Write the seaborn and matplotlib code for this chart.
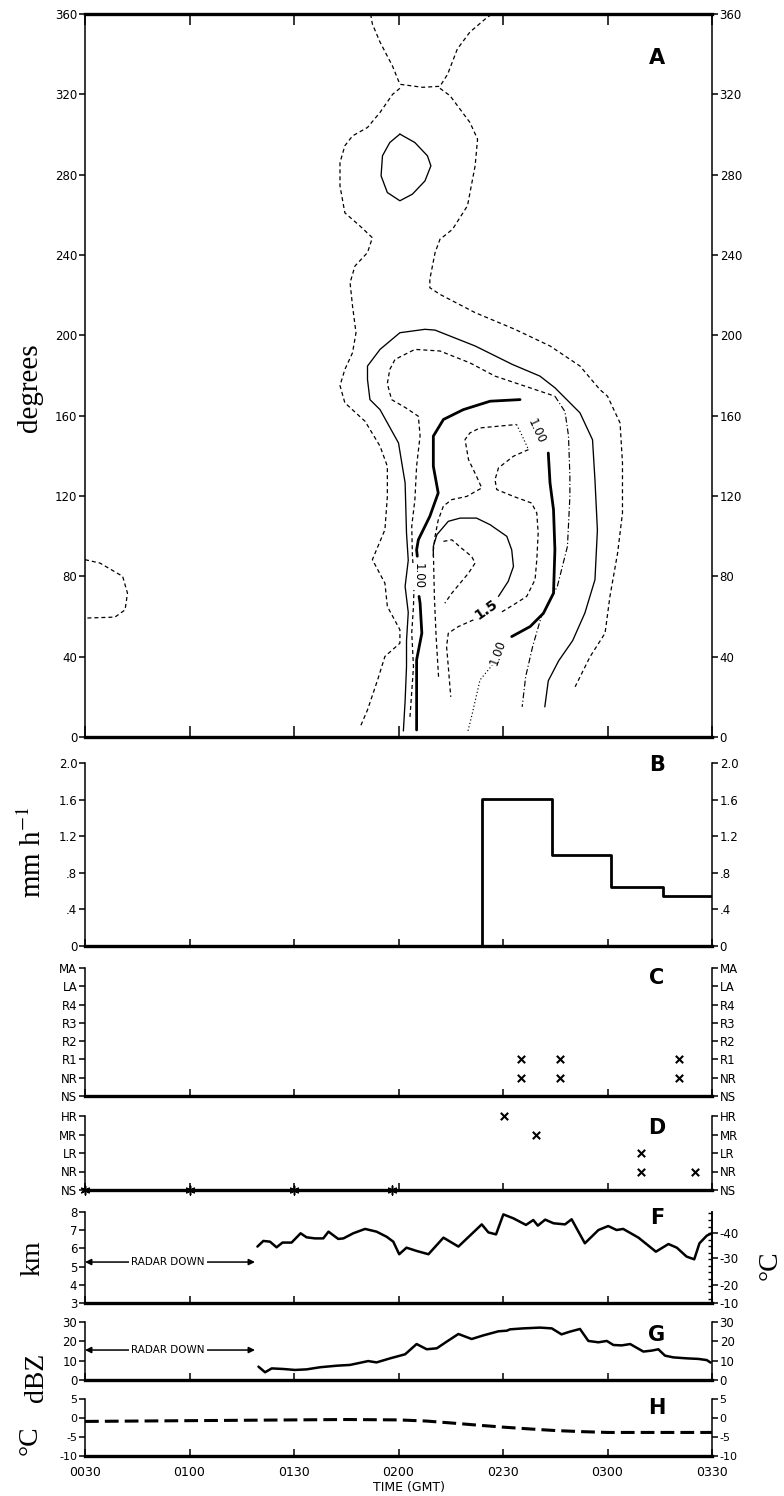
import matplotlib
matplotlib.use("Agg")
import matplotlib.pyplot as plt
import numpy as np
import pandas as pd
import seaborn as sns
from matplotlib.ticker import FixedLocator, MultipleLocator

sns.set_theme(style="white")
plt.rcParams.update({
    "font.family": ["DejaVu Sans"],
    "mathtext.fontset": "stix",
    "text.color": "black", "axes.labelcolor": "black",
    "xtick.color": "black", "ytick.color": "black",
    "axes.edgecolor": "black",
})

# ---------------- data ----------------
# time axis: minutes after 0000 GMT
time_ticks = [30, 60, 90, 120, 150, 180, 210]
time_labels = ["0030", "0100", "0130", "0200", "0230", "0300", "0330"]

# Panel A: contour lines (time [min], azimuth [deg])
outer_top = [(112.0, 360), (112.5, 355), (114.7, 346), (118.3, 334), (120.4, 325), (126.9, 323.5),
             (131.9, 324), (134.1, 330), (136.9, 342.6), (140.5, 351), (145.5, 358.4), (147.0, 360)]
outer_left = [(120.4, 323), (118.3, 320), (114.7, 311), (111.1, 303.5), (106.8, 299.3), (104.6, 294.4),
              (103.2, 286), (103.2, 274.4), (104.6, 261), (108.9, 254.5), (112.5, 248.6), (111.1, 241.2),
              (107.5, 234.5), (106.1, 226.2), (106.8, 214.6), (107.8, 201.3), (106.8, 191.3), (104.6, 183),
              (103.2, 175), (104.6, 166.4), (110.4, 157.2), (114.7, 144.8), (116.8, 134.8), (116.8, 119.8),
              (116.1, 103.2), (112.5, 88.3), (116.1, 76.6), (116.8, 65), (120.4, 53.4), (120.4, 46.7),
              (116.1, 40.1), (114.0, 28.4), (111.1, 13.5), (109.0, 5)]
outer_right = [(131.9, 323), (134.8, 319.3), (140.5, 306), (142.7, 297.7), (142.0, 284.4), (139.8, 264.5),
               (135.5, 252.8), (131.9, 247.8), (130.5, 241.2), (129.0, 228), (129.0, 223.7), (131.9, 220.4),
               (142.0, 211.3), (153.4, 203), (163.5, 194.7), (172.1, 184.7), (177.8, 173), (180.0, 169.7),
               (183.6, 156.4), (184.3, 136.5), (184.3, 111.5), (182.9, 91.6), (180.7, 70), (179.3, 51.7),
               (175.0, 40), (170.7, 25)]
loop_280 = [(120.4, 300.2), (124.7, 296), (128.3, 289.4), (129.3, 284.4), (127.6, 276.9), (124.0, 270.3),
            (120.4, 267), (116.8, 271.1), (115.0, 279.4), (115.4, 289.4), (117.5, 296), (120.4, 300.2)]
solid_u = [(121.4, 3), (121.9, 18), (122.3, 35), (122.3, 48), (122.8, 62), (121.9, 75), (122.8, 88),
           (122.3, 101.5), (121.9, 126.5), (120.0, 146.4), (114.7, 163), (111.8, 168), (111.1, 178),
           (111.1, 184.7), (114.7, 193), (120.4, 201.3), (127.6, 203), (130.5, 202.6), (142.0, 194.7),
           (152.7, 185.5), (160.6, 179.7), (164.9, 173.9), (172.1, 161.4), (175.7, 148), (176.4, 128),
           (177.1, 103), (176.4, 78.3), (173.5, 61.7), (170.0, 48), (166.0, 38), (163.0, 28), (162.0, 15)]
dash_u = [(123.3, 10), (124.3, 35), (123.8, 52), (124.3, 65), (124.5, 78), (124.0, 90), (123.8, 105),
          (124.7, 118), (125.2, 135), (126.2, 150), (125.7, 159.7), (122.0, 164), (118.0, 168),
          (116.8, 176), (117.5, 183), (119.0, 188), (124.7, 193), (131.9, 192.2), (140.5, 186.3),
          (147.7, 179.7), (156.3, 174.7), (164.9, 169.7)]
dashdot_r = [(164.9, 169.7), (167.8, 162), (168.8, 150), (169.2, 130), (169.2, 119.8), (168.5, 94.9),
             (165.6, 75), (161.0, 60), (158.5, 45), (156.5, 30), (155.5, 15)]
thick_left = [(125.2, 3.5), (125.2, 20), (125.2, 38.4), (126.7, 51.7), (126.2, 66.6), (125.9, 70)]
thick_top = [(125.4, 90), (125.2, 93.2), (125.7, 98.2), (129.0, 109.9), (131.4, 121.5), (130.0, 134.8),
             (130.0, 149.8), (132.9, 158.1), (138.6, 163), (146.3, 167.2), (154.9, 168)]
thick_right = [(163.0, 141.4), (163.5, 126.5), (164.5, 113.2), (164.9, 93.2), (164.5, 71.6),
               (161.6, 61.6), (157.8, 55), (152.5, 50)]
tail_dot = [(147.0, 36), (143.4, 28.4), (141.2, 11.8), (139.8, 2)]
inner_dash_l = [(131.5, 30), (130.8, 50), (130.3, 70), (130.0, 93), (130.5, 100), (131.4, 108),
                (132.9, 115), (135.3, 118.2), (139.6, 119.8), (143.9, 124), (142.4, 129.8), (140.1, 138.1),
                (139.1, 148.1), (140.5, 151.4), (143.4, 153.9), (153.9, 155.6)]
inner_dot = [(153.9, 155.6), (155.5, 150), (157.3, 143.1)]
inner_dash_r = [(157.3, 143.1), (153.0, 139.8), (148.7, 134), (147.7, 128.1), (148.2, 123.2), (153.0, 119.8),
                (158.2, 116.5), (159.7, 111.5), (160.1, 101.5), (159.7, 88.2), (159.2, 78.3), (156.8, 70),
                (153.0, 65.8), (149.1, 61.7)]
ring_15 = [(130.0, 90), (130.0, 94.9), (131.0, 100.7), (134.3, 107.4), (137.7, 109), (142.4, 109),
           (146.3, 105.7), (151.1, 99.9), (152.5, 93.2), (153.0, 84.9), (151.5, 77.5), (148.7, 70)]
ring_15_tail = [(141.5, 58.3), (137.2, 55), (134.3, 51.7), (133.8, 45), (134.3, 35), (135.0, 20)]
tri_dash = [(132.9, 97.4), (135.3, 98.2), (138.1, 94), (141.0, 89.9), (142.0, 86.6), (140.1, 81.6),
            (137.7, 76.6), (135.3, 71.6), (133.3, 66.6)]
left_loop = [(30.0, 88.3), (34.3, 86.6), (40.8, 80), (42.2, 71.6), (41.5, 63.3), (38.6, 59.7), (30.0, 59.2)]

contour_paths = [
    (outer_top, "dash"), (outer_left, "dash"), (outer_right, "dash"), (loop_280, "solid"),
    (solid_u, "solid"), (dash_u, "dash"), (dashdot_r, "dashdot"), (thick_left, "thick"),
    (thick_top, "thick"), (thick_right, "thick"), (tail_dot, "dot"), (inner_dash_l, "dash"),
    (inner_dot, "dot"), (inner_dash_r, "dash"), (ring_15, "solid"), (ring_15_tail, "dash"),
    (tri_dash, "dash"), (left_loop, "dash"),
]
# contour labels: (time, deg, text, rotation, bold)
contour_labels = [(125.7, 80, "1.00", -90, False), (159.5, 152, "1.00", -65, False),
                  (148.5, 42, "1.00", 70, False), (145.3, 63.5, "1.5", 35, True)]

# Panel B: rain rate (mm/h), step function
rain_t = [30, 144, 164, 181, 196, 210]
rain_v = [0.0, 1.61, 1.00, 0.65, 0.55, 0.55]
rain_ticks = [0, 0.4, 0.8, 1.2, 1.6, 2.0]
rain_tick_labels = ["0", ".4", ".8", "1.2", "1.6", "2.0"]

# Panel C: observed categories
c_levels = ["NS", "NR", "R1", "R2", "R3", "R4", "LA", "MA"]
c_t = [155.3, 155.3, 166.5, 166.5, 200.5, 200.5]
c_cat = ["R1", "NR", "R1", "NR", "R1", "NR"]

# Panel D
d_levels = ["NS", "NR", "LR", "MR", "HR"]
d_t = [150.3, 159.5, 189.6, 189.6, 205.1]
d_cat = ["HR", "MR", "LR", "NR", "NR"]
d_star_t = [30, 60, 90, 118]

# Panel F: echo-top height (km)
f_t = [79.5, 81.2, 83.1, 85.0, 86.7, 89.3, 91.9, 93.6, 96.0, 98.4, 99.9, 102.7, 104.2, 107.0, 110.4,
       113.7, 116.6, 118.5, 120.2, 122.3, 125.2, 128.6, 132.9, 137.2, 143.9, 145.8, 148.0, 150.1,
       153.0, 156.6, 158.7, 160.0, 162.1, 164.5, 167.8, 169.7, 173.5, 177.4, 180.2, 182.6, 184.5,
       188.9, 193.9, 197.5, 199.9, 202.7, 204.9, 206.4, 208.5, 209.9]
f_km = [6.10, 6.41, 6.37, 6.06, 6.32, 6.32, 6.83, 6.61, 6.55, 6.55, 6.92, 6.52, 6.55, 6.83, 7.07,
        6.92, 6.64, 6.37, 5.68, 6.04, 5.86, 5.68, 6.59, 6.10, 7.32, 6.88, 6.77, 7.87,
        7.65, 7.29, 7.56, 7.25, 7.58, 7.38, 7.32, 7.60, 6.28, 7.01, 7.23, 7.01, 7.07,
        6.59, 5.82, 6.24, 6.04, 5.55, 5.40, 6.28, 6.70, 6.83]
temp_km = [3.0, 4.0, 5.45, 6.85]
temp_labels = ["-10", "-20", "-30", "-40"]

# Panel G: reflectivity (dBZ)
g_t = [79.8, 81.7, 83.6, 86.9, 90.3, 93.6, 97.5, 102.3, 106.1, 111.3, 113.7, 117.6, 121.9, 125.2,
       128.1, 131.0, 133.8, 137.2, 141.0, 144.4, 148.7, 151.1, 152.0, 155.8, 160.6, 164.0, 166.8,
       169.2, 172.1, 174.5, 177.4, 179.8, 181.7, 184.1, 186.5, 190.3, 192.7, 194.6, 196.5, 198.9,
       202.7, 206.1, 208.5, 209.6]
g_dbz = [6.9, 4.0, 6.0, 5.7, 5.2, 5.5, 6.6, 7.4, 7.8, 9.8, 9.1, 11.2, 13.3, 18.6,
         15.9, 16.4, 19.8, 23.8, 21.2, 23.1, 25.2, 25.5, 26.2, 26.7, 27.1, 26.7, 23.6,
         25.0, 26.4, 20.2, 19.5, 20.2, 18.1, 17.9, 18.6, 14.7, 15.2, 15.9, 12.6, 11.7,
         11.2, 10.9, 10.3, 9.0]

# Panel H: temperature (deg C)
h_t = [30, 45, 60, 75, 90, 105, 120, 128, 135, 143, 150, 158, 165, 173, 180, 195, 210]
h_c = [-0.9, -0.8, -0.7, -0.6, -0.5, -0.4, -0.5, -0.8, -1.3, -1.9, -2.4, -2.9, -3.3, -3.6, -3.8, -3.8, -3.8]

# RADAR DOWN annotation (time range, text centre)
radar_t = [30, 78.8]
radar_text_t = 53.8
radar_f_km = 5.25
radar_g_dbz = 15.5

# ---------------- figure ----------------
W, H = 784, 1496
fig = plt.figure(figsize=(W / 100, H / 100), dpi=100)
L0, R0 = 85, 712


def add_ax(top_px, bot_px):
    return fig.add_axes([L0 / W, 1 - bot_px / H, (R0 - L0) / W, (bot_px - top_px) / H])


axA = add_ax(14, 737)
axB = add_ax(763, 946)
axC = add_ax(968, 1096)
axD = add_ax(1116, 1190)
axF = add_ax(1212, 1303)
axG = add_ax(1322, 1380)
axH = add_ax(1399, 1456)
TICK_FS = 8.5


def style(ax, top=False, xlen=5):
    ax.set_xlim(30, 210)
    ax.set_facecolor("white")
    for s in ["left", "right"]:
        ax.spines[s].set_linewidth(1.1)
        ax.spines[s].set_color("black")
    ax.spines["bottom"].set_linewidth(2.4)
    ax.spines["bottom"].set_color("black")
    ax.spines["top"].set_visible(top)
    if top:
        ax.spines["top"].set_linewidth(2.4)
    ax.xaxis.set_major_locator(FixedLocator(time_ticks))
    ax.tick_params(axis="x", direction="in", length=xlen, width=1.1, bottom=True, top=top,
                   labelbottom=False)
    ax.tick_params(axis="y", direction="out", length=4, width=1.1, left=True, right=True,
                   labelleft=True, labelright=True, labelsize=TICK_FS, pad=1.5)
    ax.set_xlabel("")
    ax.set_ylabel("")
    ax.grid(False)


LS = {
    "dash": dict(linewidth=0.9, linestyle=(0, (3.2, 2.4))),
    "solid": dict(linewidth=0.95, linestyle="-"),
    "thick": dict(linewidth=2.0, linestyle="-"),
    "dashdot": dict(linewidth=0.85, linestyle=(0, (5, 2, 1, 2))),
    "dot": dict(linewidth=0.85, linestyle=(0, (1, 2))),
}

# ---- Panel A ----
for pts, kind in contour_paths:
    df = pd.DataFrame(pts, columns=["t", "deg"])
    sns.lineplot(data=df, x="t", y="deg", sort=False, estimator=None, ax=axA, color="black",
                 **LS[kind])
for t, d, s, rot, bold in contour_labels:
    axA.text(t, d, s, rotation=rot, ha="center", va="center",
             fontsize=10 if bold else 8.5, fontweight="bold" if bold else "normal",
             bbox=dict(fc="white", ec="none", pad=0.6), zorder=5)
style(axA, top=True, xlen=8)
axA.set_ylim(0, 360)
axA.yaxis.set_major_locator(FixedLocator(list(range(0, 361, 40))))

# ---- Panel B ----
sns.lineplot(x=rain_t, y=rain_v, drawstyle="steps-post", sort=False, estimator=None, ax=axB,
             color="black", linewidth=2.0)
style(axB)
axB.set_ylim(0, 2.0)
axB.yaxis.set_major_locator(FixedLocator(rain_ticks))
axB.set_yticklabels(rain_tick_labels)

# ---- Panel C ----
c_y = [c_levels.index(c) for c in c_cat]
sns.scatterplot(x=c_t, y=c_y, marker="x", s=28, color="black", linewidth=1.5, ax=axC,
                clip_on=False)
style(axC)
axC.set_ylim(0, len(c_levels) - 1)
axC.yaxis.set_major_locator(FixedLocator(list(range(len(c_levels)))))
axC.set_yticklabels(c_levels)

# ---- Panel D ----
d_y = [d_levels.index(c) for c in d_cat]
sns.scatterplot(x=d_t, y=d_y, marker="x", s=28, color="black", linewidth=1.5, ax=axD,
                clip_on=False)
sns.scatterplot(x=d_star_t, y=[0] * len(d_star_t), marker=(6, 2, 0), s=40, color="black",
                linewidth=1.1, ax=axD, clip_on=False, zorder=6)
style(axD)
axD.set_ylim(0, len(d_levels) - 1)
axD.yaxis.set_major_locator(FixedLocator(list(range(len(d_levels)))))
axD.set_yticklabels(d_levels)


def radar_down(ax, y):
    ax.text(radar_text_t, y, "RADAR DOWN", ha="center", va="center", fontsize=7.5,
            bbox=dict(fc="white", ec="none", pad=1.5), zorder=5)
    ap = dict(arrowstyle="-|>", color="black", lw=1.1, mutation_scale=9, shrinkA=0, shrinkB=0)
    ax.annotate("", xy=(radar_t[0], y), xytext=(radar_text_t, y), arrowprops=ap, zorder=4)
    ax.annotate("", xy=(radar_t[1], y), xytext=(radar_text_t, y), arrowprops=ap, zorder=4)


# ---- Panel F ----
sns.lineplot(x=f_t, y=f_km, sort=False, estimator=None, ax=axF, color="black", linewidth=1.8)
style(axF)
axF.set_ylim(3, 8)
axF.yaxis.set_major_locator(FixedLocator([3, 4, 5, 6, 7, 8]))
axF.tick_params(axis="y", right=False, labelright=False)
radar_down(axF, radar_f_km)
axF2 = axF.twinx()
axF2.set_ylim(3, 8)
for s in ["left", "top", "bottom"]:
    axF2.spines[s].set_visible(False)
axF2.spines["right"].set_linewidth(1.1)
axF2.spines["right"].set_color("black")
axF2.yaxis.set_major_locator(FixedLocator(temp_km))
axF2.set_yticklabels(temp_labels)
axF2.yaxis.set_minor_locator(MultipleLocator(0.36))
axF2.tick_params(axis="y", which="major", direction="out", length=4, width=1.1, right=True,
                 labelsize=TICK_FS, pad=1.5)
axF2.tick_params(axis="y", which="minor", direction="in", length=3, width=1.0, right=True)
axF2.grid(False)

# ---- Panel G ----
sns.lineplot(x=g_t, y=g_dbz, sort=False, estimator=None, ax=axG, color="black", linewidth=1.8)
style(axG)
axG.set_ylim(0, 30)
axG.yaxis.set_major_locator(FixedLocator([0, 10, 20, 30]))
radar_down(axG, radar_g_dbz)

# ---- Panel H ----
sns.lineplot(x=h_t, y=h_c, sort=False, estimator=None, ax=axH, color="black", linewidth=2.2,
             linestyle=(0, (4.5, 2)))
style(axH)
axH.set_ylim(-10, 5)
axH.yaxis.set_major_locator(FixedLocator([-10, -5, 0, 5]))
axH.set_yticklabels(["-10", "-5", "0", "5"])
axH.tick_params(axis="y", labelsize=8)
axH.tick_params(axis="x", labelbottom=True, labelsize=9, pad=7)
axH.set_xticklabels(time_labels)

# ---- panel letters ----
for ypx, letter in [(58, "A"), (765, "B"), (978, "C"), (1128, "D"), (1218, "F"), (1335, "G"),
                    (1408, "H")]:
    fig.text(657 / W, 1 - ypx / H, letter, ha="center", va="center", fontsize=15,
             fontweight="bold")

# ---- axis titles ----
serif = ["Liberation Serif", "DejaVu Serif"]
fig.text(30 / W, 1 - 388 / H, "degrees", rotation=90, ha="center", va="center",
         fontsize=21, family=serif)
fig.text(33 / W, 1 - 852 / H, r"mm h$^{-1}$", rotation=90, ha="center", va="center",
         fontsize=21, family=serif)
fig.text(33 / W, 1 - 1258 / H, "km", rotation=90, ha="center", va="center",
         fontsize=20, family=serif)
fig.text(36 / W, 1 - 1377 / H, "dBZ", rotation=90, ha="center", va="center",
         fontsize=20, family=serif)
fig.text(30 / W, 1 - 1440 / H, "°C", rotation=90, ha="center", va="center",
         fontsize=20, family=serif)
fig.text(770 / W, 1 - 1265 / H, "°C", rotation=90, ha="center", va="center",
         fontsize=20, family=serif)
fig.text(409 / W, 1 - 1488 / H, "TIME (GMT)", ha="center", va="center", fontsize=9)

fig.savefig("out.png", dpi=100, facecolor="white")
